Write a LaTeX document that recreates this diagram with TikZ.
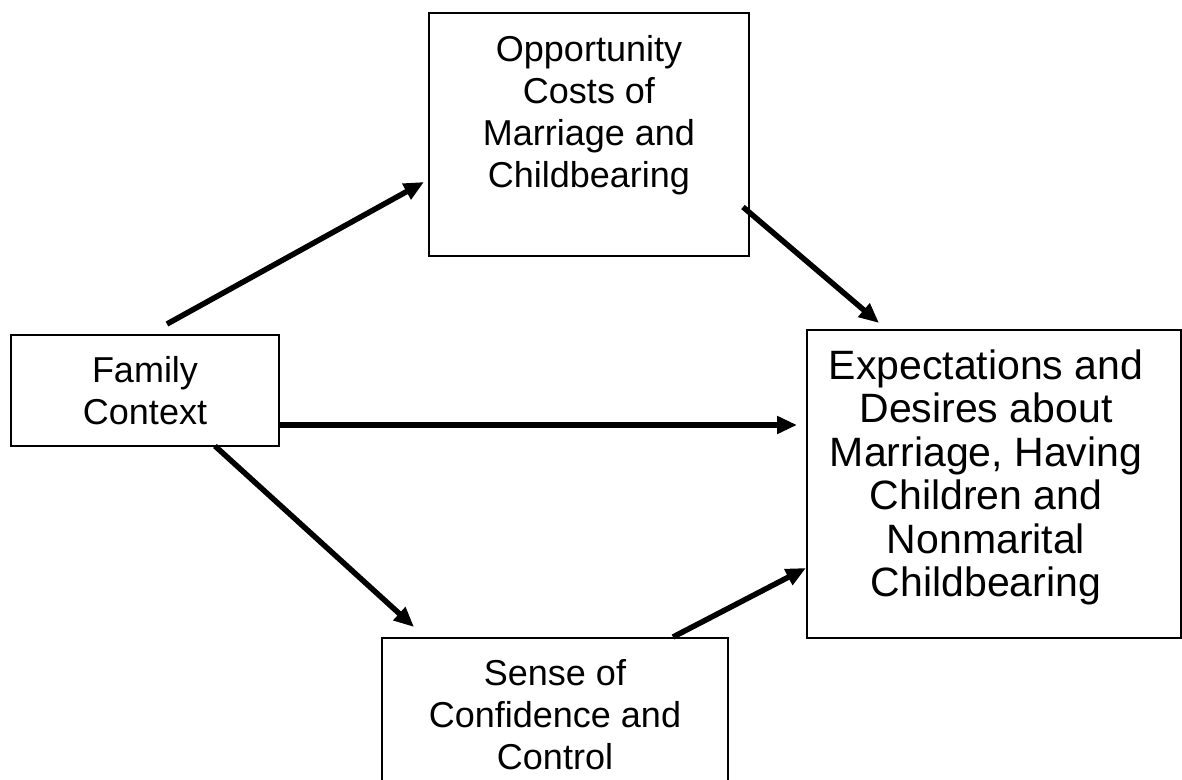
\documentclass[tikz,border=0pt]{standalone}
\usepackage{fontspec}
\setmainfont{Liberation Sans}
\usepackage{tikz}
\usetikzlibrary{positioning,calc,arrows.meta}

\begin{document}
\begin{tikzpicture}[x=1pt,y=1pt,
                    blk/.style n args={2}{draw,rectangle,line width=2pt,
                    minimum width=#1pt,
                    minimum height=#2pt,
                    inner sep=0pt},
                    txt/.style={align=center,inner sep=0pt,
                    font=\fontsize{36}{42}\selectfont},
                    arr/.style={line width=5.5pt,
                    -{Triangle[length=20pt,width=17pt]}}]
    \useasboundingbox (0,0) rectangle (1182,779);
    \clip (0,0) rectangle (1182,779);
    % boxes
    \node[blk={320}{243}](opp) at (589,644.5) {};
    \node[txt](opptxt) at ($(opp.center)+(0,19)$) {Opportunity\\Costs of\\Marriage and\\Childbearing};
    \node[blk={268}{111},txt](fam) at (145,388.5) {Family\\Context};
    \node[blk={374}{308}](exp) at (994,295) {};
    \node[txt,font=\fontsize{41}{43.5}\selectfont](exptxt) at ($(exp.center)+(-8,6.5)$) {Expectations and\\Desires about\\Marriage, Having\\Children and\\Nonmarital\\Childbearing};
    \node[blk={346}{171}](sns) at (555,55.5) {};
    \node[txt](snstxt) at (555,64) {Sense of\\Confidence and\\Control};
    % arrows
    \draw[arr] ($(fam.north)+(22,10)$) -- ($(opp.west)+(-4,-47.5)$);
    \draw[arr] ($(opp.south east)+(-7,50)$) -- ($(exp.north west)+(73,6)$);
    \draw[arr] ($(fam.east)+(0,-34.5)$) -- ($(exp.west)+(-9,59)$);
    \draw[arr] ($(fam.south)+(70,1)$) -- ($(sns.north west)+(33,10)$);
    \draw[arr] ($(sns.north east)+(-56,0)$) -- ($(exp.south west)+(0,71)$);
\end{tikzpicture}
\end{document}
